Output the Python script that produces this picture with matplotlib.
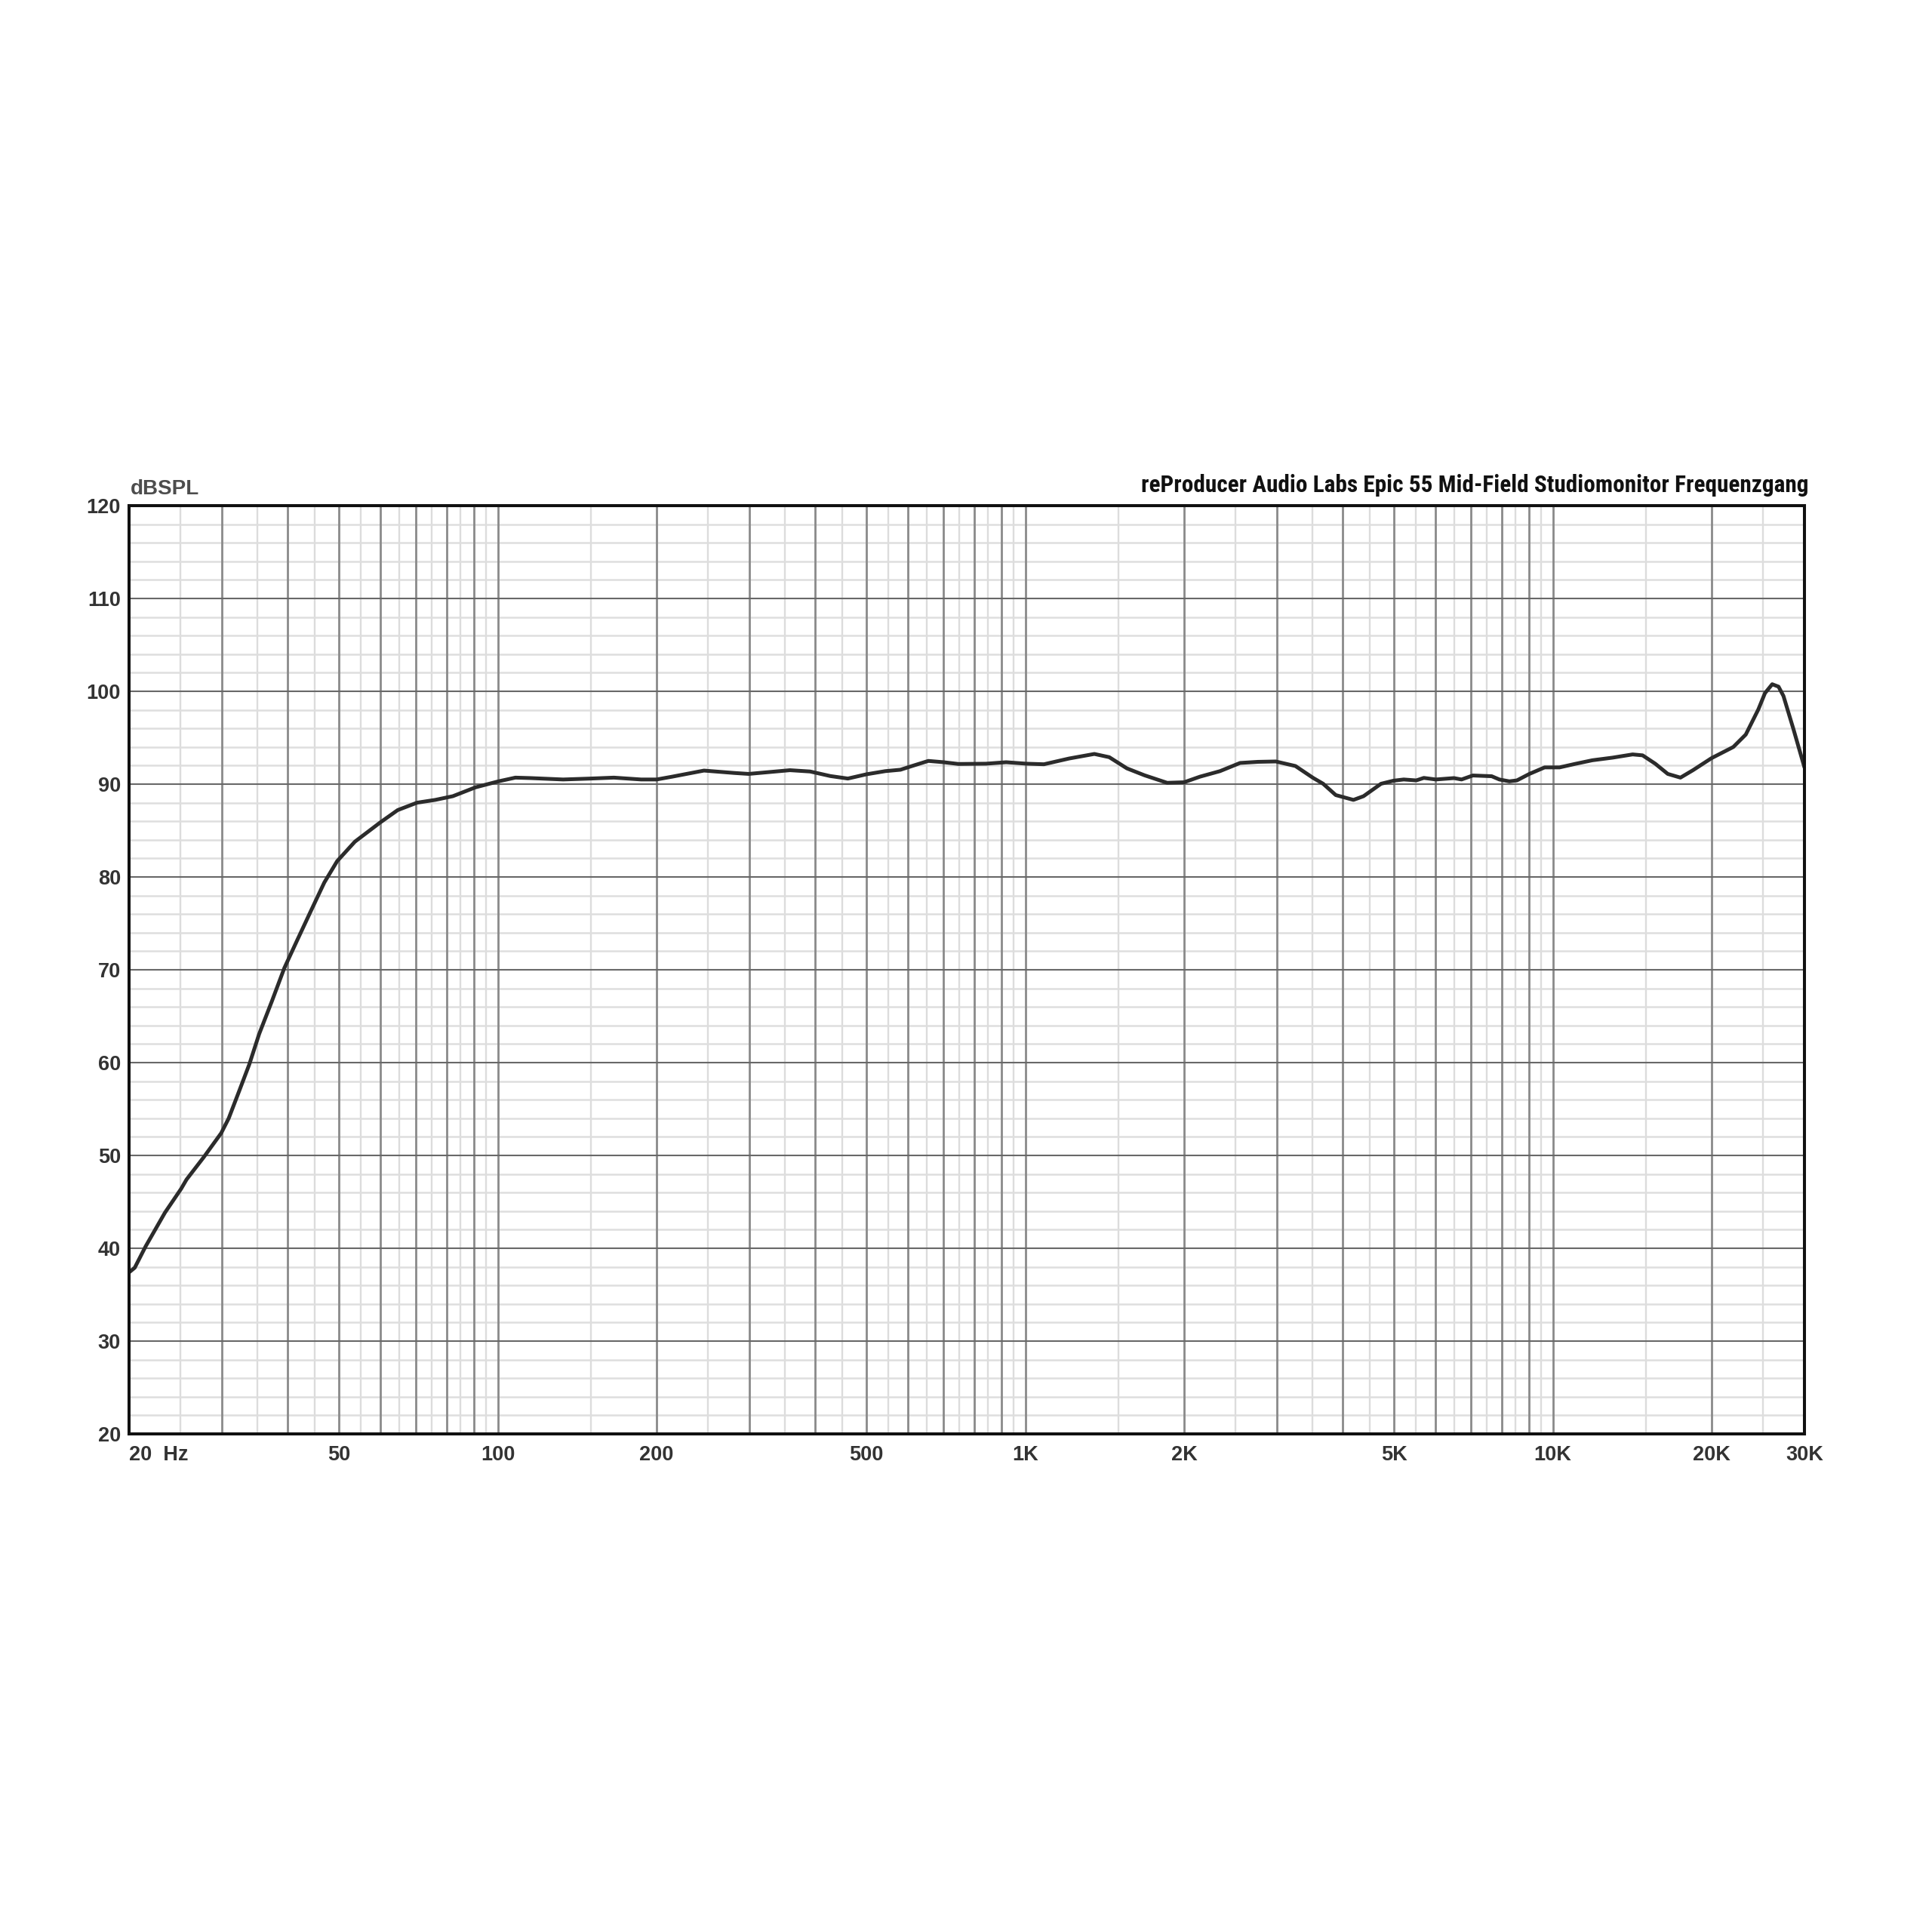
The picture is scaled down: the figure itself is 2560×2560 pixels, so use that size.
import matplotlib
matplotlib.use('Agg')
import matplotlib.pyplot as plt
from matplotlib.ticker import NullLocator, NullFormatter

# Frequenzgang (Hz / dB SPL)
freq = [20, 20.5, 21.5, 23.4, 25.1, 25.7, 27.7, 29.9, 30.9, 32.3, 33.8, 35.3, 37.3, 39.4,
        41.6, 44.2, 46.9, 49.6, 53.6, 59.8, 64.6, 70.3, 76.1, 82.2, 90.7, 100.3, 108,
        115.5, 133, 150, 166, 187, 200, 214, 246, 281, 299, 358, 391, 427, 461, 500,
        543, 580, 606, 655, 700, 747, 843, 920, 1005, 1085, 1211, 1352, 1443, 1558,
        1683, 1858, 2000, 2143, 2340, 2554, 2759, 2985, 3252, 3513, 3670, 3878, 4189,
        4378, 4726, 4990, 5217, 5510, 5696, 6000, 6497, 6715, 7055, 7660, 7920, 8273,
        8550, 9030, 9650, 10300, 11005, 11885, 12975, 14170, 14800, 15640, 16520,
        17460, 18440, 20000, 21990, 23220, 24530, 25250, 26060, 26790, 27370, 28600, 30000]
spl = [37.4, 37.9, 40.2, 43.85, 46.4, 47.4, 49.8, 52.4, 54.0, 56.85, 59.8, 63.1, 66.6, 70.2,
       73.1, 76.3, 79.4, 81.7, 83.8, 85.85, 87.2, 88.0, 88.3, 88.7, 89.65, 90.3, 90.7,
       90.65, 90.5, 90.6, 90.7, 90.5, 90.5, 90.8, 91.46, 91.2, 91.1, 91.5, 91.36, 90.87,
       90.6, 91.06, 91.4, 91.55, 91.9, 92.5, 92.36, 92.17, 92.2, 92.36, 92.2, 92.14,
       92.76, 93.25, 92.9, 91.7, 90.95, 90.14, 90.2, 90.8, 91.4, 92.28, 92.4, 92.44,
       91.95, 90.67, 90.04, 88.82, 88.3, 88.7, 90.04, 90.37, 90.5, 90.4, 90.67, 90.5,
       90.65, 90.5, 90.93, 90.85, 90.5, 90.3, 90.4, 91.1, 91.8, 91.8, 92.17, 92.57,
       92.85, 93.2, 93.1, 92.2, 91.1, 90.7, 91.5, 92.8, 94.0, 95.34, 98.05, 99.8, 100.76,
       100.5, 99.5, 95.9, 91.8]

x_tick_pos = [20, 50, 100, 200, 500, 1000, 2000, 5000, 10000, 20000, 30000]
x_tick_txt = ['20  Hz', '50', '100', '200', '500', '1K', '2K', '5K', '10K', '20K', '30K']
y_ticks = [20, 30, 40, 50, 60, 70, 80, 90, 100, 110, 120]
y_minor = [v for v in range(20, 121, 2) if v % 10 != 0]

titel = 'reProducer Audio Labs Epic 55 Mid-Field Studiomonitor Frequenzgang'

# Rasterlinien: ganze Vielfache dunkel, halbe Schritte hell
dunkel = [n * 10 ** k for k in (1, 2, 3, 4) for n in range(1, 10) if 20 < n * 10 ** k < 30000]
hell = [(n + 0.5) * 10 ** k for k in (1, 2, 3, 4) for n in range(1, 10) if 20 < (n + 0.5) * 10 ** k < 30000]

fig = plt.figure(figsize=(25.6, 25.6), dpi=100)
ax = fig.add_axes([171 / 2560, 1 - 1900 / 2560, 2220 / 2560, 1230 / 2560])

ax.set_xscale('log')
ax.set_xlim(20, 30000)
ax.set_ylim(20, 120)

for f in hell:
    ax.axvline(f, color='#dcdcdc', lw=1.7, zorder=1)
for v in y_minor:
    ax.axhline(v, color='#dedede', lw=1.8, zorder=1)
for f in dunkel:
    ax.axvline(f, color='#8a8a8a', lw=2.0, zorder=2)
for v in y_ticks:
    ax.axhline(v, color='#686868', lw=1.5, zorder=2)

ax.plot(freq, spl, color='#2b2b2b', lw=3.6, solid_joinstyle='round',
        solid_capstyle='round', zorder=5)

ax.xaxis.set_minor_locator(NullLocator())
ax.xaxis.set_minor_formatter(NullFormatter())
ax.set_xticks(x_tick_pos)
ax.set_xticklabels(x_tick_txt)
ax.set_yticks(y_ticks)
ax.set_yticklabels([str(v) for v in y_ticks])
ax.tick_params(axis='both', length=0, labelsize=19.5, labelcolor='#333333')
ax.tick_params(axis='x', pad=11)
ax.tick_params(axis='y', pad=8)
for lab in ax.get_xticklabels() + ax.get_yticklabels():
    lab.set_fontfamily(['Liberation Sans', 'DejaVu Sans'])
    lab.set_fontweight('bold')
ax.get_xticklabels()[0].set_horizontalalignment('left')

for s in ax.spines.values():
    s.set_linewidth(2.9)
    s.set_color('#111111')
    s.set_zorder(10)

fig.text(173 / 2560, 1 - 655 / 2560, 'dBSPL', fontsize=20, fontweight='bold',
         color='#4d4d4d', family=['Liberation Sans', 'DejaVu Sans'], va='baseline', ha='left')

t = fig.text(2396 / 2560, 1 - 652 / 2560, titel, fontsize=20, fontweight='bold', color='#111111',
             family=['Liberation Sans Narrow', 'Arial Narrow', 'Roboto Condensed', 'Liberation Sans'],
             va='baseline', ha='right')
# Titelbreite an das Original anpassen (ca. 880 px)
fig.canvas.draw()
breite = t.get_window_extent().width
t.set_fontsize(20 * 880 / breite)

fig.savefig('out.png', dpi=100, facecolor='white')
